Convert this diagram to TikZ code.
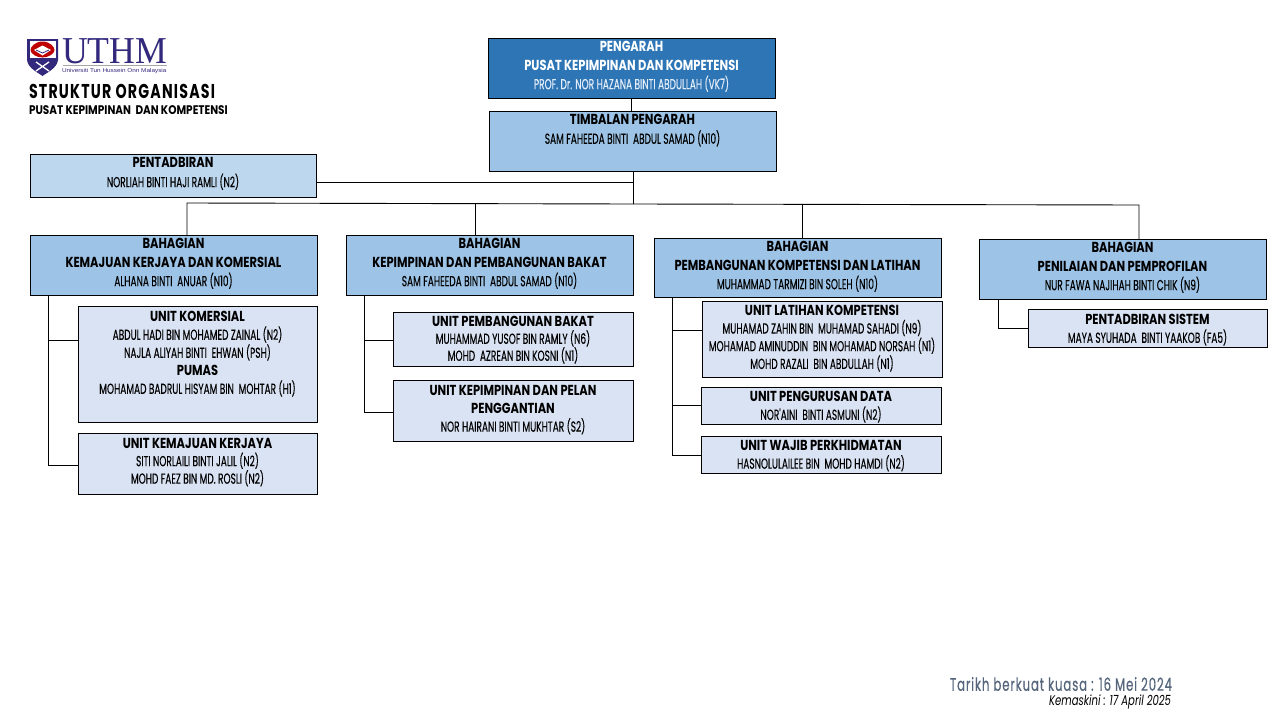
\documentclass[tikz,border=0pt]{standalone}
\usepackage{fontspec}
\usetikzlibrary{calc}
\setmainfont{Poppins}
\newfontfamily\nmf[FakeStretch=0.62,FakeBold=0.25]{Poppins}
\newfontfamily\hdf[FakeStretch=0.79]{Poppins}
\newfontfamily\ttf[FakeStretch=0.71,LetterSpace=6]{Poppins}
\newfontfamily\sbf[FakeStretch=0.84]{Poppins}
\newfontfamily\ftf[FakeStretch=0.65,LetterSpace=5,FakeBold=0.3]{Poppins}
\newfontfamily\upf[FakeStretch=0.72]{Poppins}
\definecolor{cdir}{HTML}{2E75B6}
\definecolor{cdep}{HTML}{9DC3E6}
\definecolor{cadm}{HTML}{BDD7EE}
\definecolor{cdiv}{HTML}{9DC3E6}
\definecolor{cunit}{HTML}{DAE3F3}
\definecolor{cpale}{HTML}{E4EEF8}
\definecolor{cfoot}{HTML}{55657C}
\definecolor{cuthm}{HTML}{33297C}
\newcommand{\hl}[1]{{\hdf\bfseries\fontsize{14.5}{18}\selectfont #1}\par}
\newcommand{\nl}[1]{{\nmf\fontsize{14.5}{18}\selectfont #1}\par}
% name, x1, y1, x2, y2, fill style, top offset, pitch, lines
\newcommand{\orgbox}[9]{%
  \pgfmathsetmacro{\bw}{#4-#2}\pgfmathsetmacro{\bh}{#5-#3}%
  \node[orgb,#6,minimum width=\bw pt,minimum height=\bh pt,anchor=north west] (#1) at (#2,#3)
  {\parbox[c][\bh pt][t]{\bw pt}{\centering\vspace*{#7pt}\setlength{\baselineskip}{#8pt}\setlength{\lineskip}{0pt}\setlength{\parskip}{0pt}#9}};}
\tikzset{
  orgb/.style={draw=black,line width=0.9pt,inner sep=0pt,outer sep=0pt,text=black,rectangle},
  dirb/.style={fill=cdir,text=cpale},
  depb/.style={fill=cdep},
  admb/.style={fill=cadm},
  divb/.style={fill=cdiv},
  unib/.style={fill=cunit},
  link/.style={draw=black,line width=0.9pt},
  free/.style={inner sep=0pt,outer sep=0pt}
}
\begin{document}
\begin{tikzpicture}[x=1pt,y=-1pt]
\useasboundingbox (0,0) rectangle (1280,720);
\fill[white] (0,0) rectangle (1280,720);
% logo
\fill[cuthm] (27,39) -- (58,39) -- (58,60) .. controls (57,68) and (48,72) .. (42.5,76) .. controls (37,72) and (28,68) .. (27,60) -- cycle;
\fill[white] (29.5,41) -- (55.5,41) -- (55.5,58) -- (29.5,58) -- cycle;
\fill[red!75!black] (42.5,41.5) .. controls (50,41.5) and (54.5,47) .. (54.5,50) .. controls (54.5,54) and (48,57.5) .. (42.5,57.5) .. controls (37,57.5) and (30.5,54) .. (30.5,50) .. controls (30.5,47) and (35,41.5) .. (42.5,41.5) -- cycle;
\fill[white] (34,50) -- (42.5,45.5) -- (51,50) -- (42.5,55.5) -- cycle;
\draw[cuthm,line width=0.8pt] (36,50) -- (42.5,53) -- (49,50);
\draw[white,line width=1.3pt] (36,62) -- (49,71) (49,62) -- (36,71);
\node[free,anchor=base west,text=cuthm,text height=25pt,text depth=0pt] (uthm) at (62,63) {\fontspec[FakeStretch=0.94]{Liberation Serif}\fontsize{38}{38}\selectfont UTHM};
\draw[gray!70,line width=0.7pt] (63,65.5) -- (167,65.5);
\node[free,anchor=west,text=cuthm] (univ) at (62,71.3) {\fontspec[FakeStretch=1.14]{Liberation Sans}\fontsize{5.6}{6}\selectfont Universiti Tun Hussein Onn Malaysia};
\node[free,anchor=west] (title) at (29,91) {\ttf\bfseries\fontsize{20}{22}\selectfont STRUKTUR ORGANISASI};
\node[free,anchor=west] (sub) at (29,110.5) {\sbf\bfseries\fontsize{12.5}{14}\selectfont PUSAT KEPIMPINAN\ \ DAN KOMPETENSI};
% boxes
\orgbox{dir}{488}{38}{775}{98}{dirb}{3.5}{18.7}{\hl{\textcolor{white}{PENGARAH}}\hl{\textcolor{white}{PUSAT KEPIMPINAN DAN KOMPETENSI}}\nl{PROF. Dr. NOR HAZANA BINTI ABDULLAH (VK7)}}
\orgbox{dep}{489}{111}{776}{171}{depb}{3.5}{19}{\hl{TIMBALAN PENGARAH}\nl{SAM FAHEEDA BINTI\ \ ABDUL SAMAD (N10)}}
\orgbox{adm}{30}{154}{316}{197}{admb}{3.5}{19.5}{\hl{PENTADBIRAN}\nl{NORLIAH BINTI HAJI RAMLI (N2)}}
\orgbox{bha}{30}{235}{317}{295}{divb}{3.5}{18.7}{\hl{BAHAGIAN}\hl{KEMAJUAN KERJAYA DAN KOMERSIAL}\nl{ALHANA BINTI\ \ ANUAR (N10)}}
\orgbox{bhb}{346}{235}{633}{295}{divb}{3.5}{18.7}{\hl{BAHAGIAN}\hl{KEPIMPINAN DAN PEMBANGUNAN BAKAT}\nl{SAM FAHEEDA BINTI\ \ ABDUL SAMAD (N10)}}
\orgbox{bhc}{654}{238}{941}{297}{divb}{3.5}{18.7}{\hl{BAHAGIAN}\hl{PEMBANGUNAN KOMPETENSI DAN LATIHAN}\nl{MUHAMMAD TARMIZI BIN SOLEH (N10)}}
\orgbox{bhd}{979}{239}{1266}{299}{divb}{3.5}{18.7}{\hl{BAHAGIAN}\hl{PENILAIAN DAN PEMPROFILAN}\nl{NUR FAWA NAJIHAH BINTI CHIK (N9)}}
\orgbox{ukom}{78}{306}{317}{422}{unib}{5.5}{18}{\hl{UNIT KOMERSIAL}\nl{ABDUL HADI BIN MOHAMED ZAINAL (N2)}\nl{NAJLA ALIYAH BINTI\ \ EHWAN (PSH)}\hl{PUMAS}\nl{MOHAMAD BADRUL HISYAM BIN\ \ MOHTAR (H1)}}
\orgbox{ukem}{78}{433}{317}{494}{unib}{5.5}{17.5}{\hl{UNIT KEMAJUAN KERJAYA}\nl{SITI NORLAILI BINTI JALIL (N2)}\nl{MOHD FAEZ BIN MD. ROSLI (N2)}}
\orgbox{upem}{393}{312}{633}{366}{unib}{4.5}{17}{\hl{UNIT PEMBANGUNAN BAKAT}\nl{MUHAMMAD YUSOF BIN RAMLY (N6)}\nl{MOHD\ \ AZREAN BIN KOSNI (N1)}}
\orgbox{ukep}{393}{380}{633}{441}{unib}{5.5}{18}{\hl{UNIT KEPIMPINAN DAN PELAN}\hl{PENGGANTIAN}\nl{NOR HAIRANI BINTI MUKHTAR (S2)}}
\orgbox{ulat}{702}{301}{942}{377}{unib}{4.5}{17.7}{\hl{UNIT LATIHAN KOMPETENSI}\nl{MUHAMAD ZAHIN BIN\ \ MUHAMAD SAHADI (N9)}\nl{MOHAMAD AMINUDDIN\ \ BIN MOHAMAD NORSAH (N1)}\nl{MOHD RAZALI\ \ BIN ABDULLAH (N1)}}
\orgbox{upen}{701}{387}{941}{424}{unib}{4.5}{18}{\hl{UNIT PENGURUSAN DATA}\nl{NOR'AINI\ \ BINTI ASMUNI (N2)}}
\orgbox{uwaj}{701}{436}{941}{473}{unib}{4.5}{18}{\hl{UNIT WAJIB PERKHIDMATAN}\nl{HASNOLULAILEE BIN\ \ MOHD HAMDI (N2)}}
\orgbox{usis}{1028}{309}{1267}{347}{unib}{5.5}{18}{\hl{PENTADBIRAN SISTEM}\nl{MAYA SYUHADA\ \ BINTI YAAKOB (FA5)}}
% connectors
\coordinate (trunk) at (633,204);
\coordinate (join) at (633,182);
\draw[link] (dir.south -| 631,0) -- (dep.north -| 631,0);
\draw[link] (dep.south -| trunk) -- (trunk);
\draw[link] (join -| adm.east) -- (join);
\draw[link] (bha.north -| 187,0) -- (187,203) -- (trunk) -- (1139,205) -- (bhd.north -| 1139,0);
\draw[link] (bhb.north -| 475,0) -- (475,203.5);
\draw[link] (bhc.north -| 802,0) -- (802,204.5);
% branches
\coordinate (sa) at (48,295);
\draw[link] (sa) |- ($(ukem.north west)+(0,32)$);
\draw[link] (sa |- 0,340) -- (ukom.west |- 0,340);
\coordinate (sb) at (364,295);
\draw[link] (sb) |- ($(ukep.north west)+(0,32)$);
\draw[link] (sb |- 0,340) -- (upem.west |- 0,340);
\coordinate (sc) at (672.5,297);
\draw[link] (sc) |- ($(uwaj.north west)+(0,19)$);
\draw[link] (sc |- 0,330) -- (ulat.west |- 0,330);
\draw[link] (sc |- 0,405) -- (upen.west |- 0,405);
\coordinate (sd) at (998,299);
\draw[link] (sd) |- ($(usis.north west)+(0,19)$);
% footer
\node[free,anchor=east,text=cfoot] (eff) at (1172,684) {\ftf\fontsize{18}{20}\selectfont Tarikh berkuat kuasa : 16 Mei 2024};
\node[free,anchor=east] (upd) at (1171,702) {\upf\itshape\fontsize{14}{16}\selectfont Kemaskini : 17 April 2025};
\end{tikzpicture}
\end{document}
